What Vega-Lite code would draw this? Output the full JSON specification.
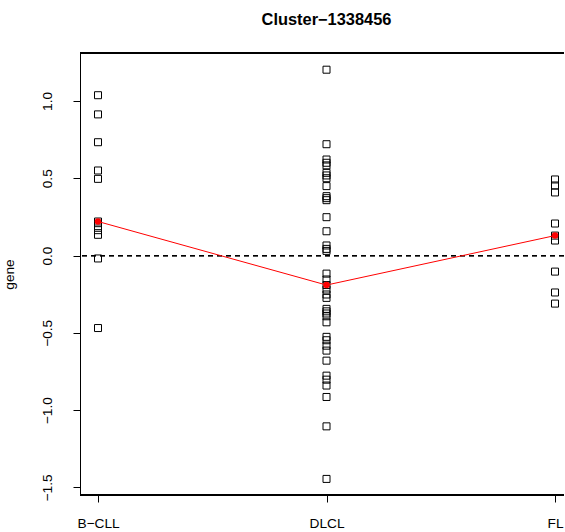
{
  "$schema": "https://vega.github.io/schema/vega-lite/v6.json",
  "width": 484,
  "height": 442,
  "autosize": {"type": "none"},
  "padding": {"left": 80, "top": 53, "right": 1, "bottom": 37},
  "background": "white",
  "config": {
    "view": {"stroke": null},
    "font": "Liberation Sans",
    "axis": {"labelFont": "Liberation Sans", "titleFont": "Liberation Sans", "labelColor": "black", "titleColor": "black", "grid": false}
  },
  "title": {
    "text": "Cluster−1338456",
    "font": "Liberation Sans",
    "fontSize": 16.4,
    "fontWeight": "bold",
    "color": "black",
    "anchor": "middle",
    "frame": "group",
    "baseline": "alphabetic",
    "offset": 11,
    "dx": 4.5
  },
  "data": {
    "values": [
      {"group": "B−CLL", "value": 1.037},
      {"group": "B−CLL", "value": 0.913},
      {"group": "B−CLL", "value": 0.733},
      {"group": "B−CLL", "value": 0.550},
      {"group": "B−CLL", "value": 0.496},
      {"group": "B−CLL", "value": 0.220},
      {"group": "B−CLL", "value": 0.190},
      {"group": "B−CLL", "value": 0.164},
      {"group": "B−CLL", "value": 0.134},
      {"group": "B−CLL", "value": -0.019},
      {"group": "B−CLL", "value": -0.469},
      {"group": "DLCL", "value": 1.202},
      {"group": "DLCL", "value": 0.720},
      {"group": "DLCL", "value": 0.621},
      {"group": "DLCL", "value": 0.600},
      {"group": "DLCL", "value": 0.583},
      {"group": "DLCL", "value": 0.535},
      {"group": "DLCL", "value": 0.518},
      {"group": "DLCL", "value": 0.500},
      {"group": "DLCL", "value": 0.449},
      {"group": "DLCL", "value": 0.384},
      {"group": "DLCL", "value": 0.371},
      {"group": "DLCL", "value": 0.358},
      {"group": "DLCL", "value": 0.248},
      {"group": "DLCL", "value": 0.157},
      {"group": "DLCL", "value": 0.065},
      {"group": "DLCL", "value": 0.043},
      {"group": "DLCL", "value": 0.030},
      {"group": "DLCL", "value": -0.117},
      {"group": "DLCL", "value": -0.155},
      {"group": "DLCL", "value": -0.191},
      {"group": "DLCL", "value": -0.220},
      {"group": "DLCL", "value": -0.252},
      {"group": "DLCL", "value": -0.274},
      {"group": "DLCL", "value": -0.345},
      {"group": "DLCL", "value": -0.361},
      {"group": "DLCL", "value": -0.375},
      {"group": "DLCL", "value": -0.393},
      {"group": "DLCL", "value": -0.432},
      {"group": "DLCL", "value": -0.526},
      {"group": "DLCL", "value": -0.548},
      {"group": "DLCL", "value": -0.583},
      {"group": "DLCL", "value": -0.615},
      {"group": "DLCL", "value": -0.680},
      {"group": "DLCL", "value": -0.777},
      {"group": "DLCL", "value": -0.803},
      {"group": "DLCL", "value": -0.841},
      {"group": "DLCL", "value": -0.915},
      {"group": "DLCL", "value": -1.105},
      {"group": "DLCL", "value": -1.445},
      {"group": "FL", "value": 0.492},
      {"group": "FL", "value": 0.453},
      {"group": "FL", "value": 0.408},
      {"group": "FL", "value": 0.207},
      {"group": "FL", "value": 0.129},
      {"group": "FL", "value": 0.097},
      {"group": "FL", "value": -0.104},
      {"group": "FL", "value": -0.239},
      {"group": "FL", "value": -0.311}
    ]
  },
  "encoding": {
    "x": {
      "field": "group",
      "type": "nominal",
      "scale": {"type": "point", "range": [18, 475], "padding": 0},
      "axis": {
        "title": null,
        "labelAngle": 0,
        "labelFontSize": 13.7,
        "labelBaseline": "alphabetic",
        "labelPadding": 25,
        "tickSize": 7,
        "tickColor": "black",
        "domain": false
      }
    },
    "y": {
      "field": "value",
      "type": "quantitative",
      "scale": {"domain": [-1.549, 1.31], "nice": false, "zero": false},
      "axis": {
        "title": "gene",
        "titleFontSize": 13.7,
        "titleFontWeight": "normal",
        "titleAngle": -90,
        "titleBaseline": "alphabetic",
        "titleAlign": "center",
        "titleX": -67,
        "titleY": 221,
        "values": [-1.5, -1, -0.5, 0, 0.5, 1],
        "format": ".1f",
        "labelAngle": -90,
        "labelAlign": "center",
        "labelBaseline": "alphabetic",
        "labelFontSize": 13.7,
        "labelPadding": 22,
        "tickSize": 7,
        "tickColor": "black",
        "domainColor": "black",
        "labelFlush": false,
        "labelOverlap": false
      }
    }
  },
  "layer": [
    {
      "mark": {"type": "rule", "color": "black", "strokeWidth": 1, "strokeDash": [5, 4]},
      "encoding": {"x": null, "y": {"datum": 0, "type": "quantitative"}}
    },
    {
      "mark": {"type": "rule", "color": "black", "strokeWidth": 1},
      "encoding": {"x": null, "y": {"datum": 1.31, "type": "quantitative"}}
    },
    {
      "mark": {"type": "rule", "color": "black", "strokeWidth": 1},
      "encoding": {"x": null, "y": {"datum": -1.549, "type": "quantitative"}}
    },
    {
      "mark": {"type": "point", "shape": "square", "size": 49, "filled": false, "color": "black", "strokeWidth": 1, "opacity": 1}
    },
    {
      "mark": {"type": "line", "color": "#ff0000", "strokeWidth": 1},
      "encoding": {"y": {"aggregate": "median", "field": "value", "type": "quantitative"}}
    },
    {
      "mark": {"type": "point", "shape": "circle", "size": 42, "filled": true, "color": "#ff0000", "opacity": 1},
      "encoding": {"y": {"aggregate": "median", "field": "value", "type": "quantitative"}}
    }
  ]
}
